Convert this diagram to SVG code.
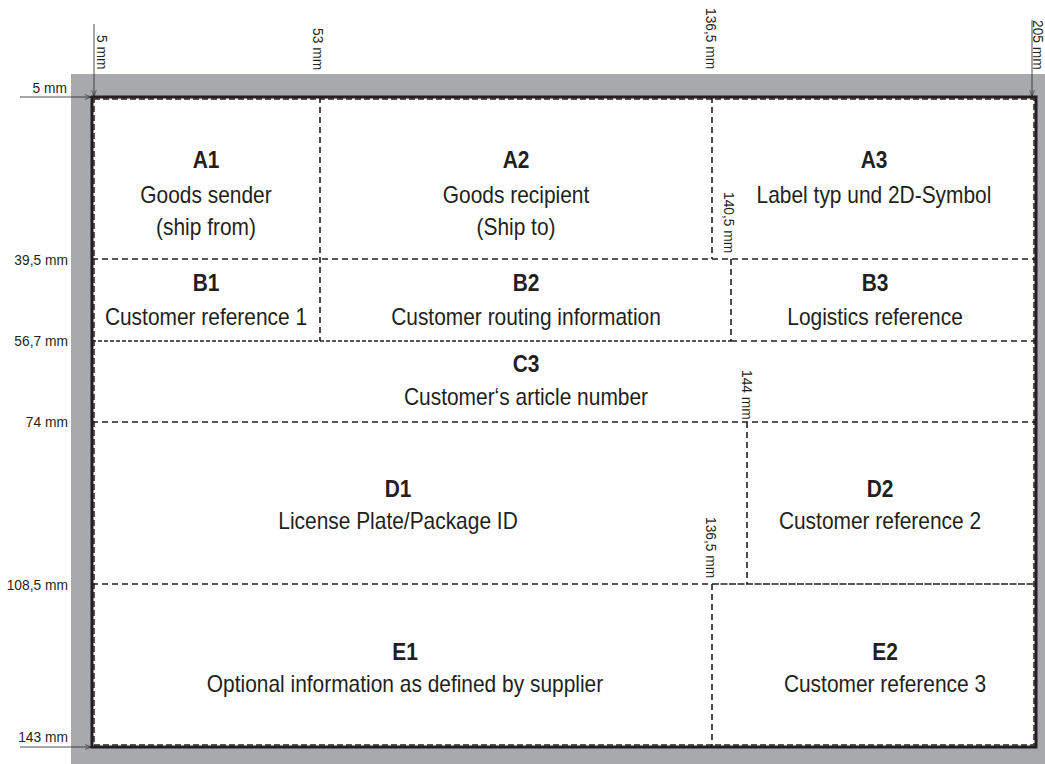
<svg xmlns="http://www.w3.org/2000/svg" width="1045" height="764" viewBox="0 0 1045 764">
<style>
.t{font-family:"Liberation Sans",Arial,sans-serif;fill:#231f20;text-anchor:middle}
.h{font-size:23px;font-weight:bold}
.r{font-size:23px}
.d{font-family:"Liberation Sans",Arial,sans-serif;fill:#231f20;font-size:15px}
.e{text-anchor:end}
.dl{stroke:#231f20;stroke-width:1.6;stroke-dasharray:6 4;fill:none}
.dim{stroke:#231f20;stroke-width:0.8;fill:none}
</style>
<defs>
<marker id="ar" viewBox="0 0 10 10" refX="10" refY="5" markerWidth="6" markerHeight="6" orient="auto" markerUnits="userSpaceOnUse">
<path d="M0,1 L10,5 L0,9" fill="none" stroke="#231f20" stroke-width="1"/>
</marker>
</defs>
<rect x="71" y="74" width="974" height="690" fill="#a7a9ac"/>
<rect id="label" x="92" y="97" width="944" height="650" fill="#fff"/>
<g id="frame">
<rect x="92" y="97" width="944" height="650" fill="none" stroke="#231f20" stroke-width="3"/>
<rect x="94" y="99" width="940" height="646" fill="none" stroke="#231f20" stroke-width="1.5" stroke-dasharray="6 3"/>
</g>
<g id="connectors">
<line class="dl" x1="92" y1="259" x2="1036" y2="259"/>
<line class="dl" x1="92" y1="341" x2="731" y2="341" style="stroke-dasharray:4 2"/>
<line class="dl" x1="731" y1="341" x2="1036" y2="341"/>
<line class="dl" x1="92" y1="422" x2="1036" y2="422"/>
<line class="dl" x1="92" y1="584" x2="712" y2="584"/>
<line class="dl" x1="712" y1="584" x2="1036" y2="584" style="stroke-dasharray:7 1.5"/>
<line class="dl" x1="320" y1="97" x2="320" y2="341"/>
<line class="dl" x1="712" y1="97" x2="712" y2="259"/>
<line class="dl" x1="731" y1="259" x2="731" y2="341"/>
<line class="dl" x1="747" y1="422" x2="747" y2="584"/>
<line class="dl" x1="712" y1="584" x2="712" y2="747"/>
<line class="dim" x1="94" y1="24" x2="94" y2="96" marker-end="url(#ar)"/>
<line class="dim" x1="20" y1="97" x2="91" y2="97" marker-end="url(#ar)"/>
<line class="dim" x1="1032" y1="20" x2="1032" y2="96" marker-end="url(#ar)"/>
<line class="dim" x1="20" y1="747" x2="91" y2="747" marker-end="url(#ar)"/>
</g>
<g id="dims">
<text class="d e" transform="translate(67,93) scale(0.92,1)">5 mm</text>
<text class="d e" transform="translate(68,265) scale(0.92,1)">39,5 mm</text>
<text class="d e" transform="translate(68,346) scale(0.92,1)">56,7 mm</text>
<text class="d e" transform="translate(68,427) scale(0.92,1)">74 mm</text>
<text class="d e" transform="translate(68,590) scale(0.92,1)">108,5 mm</text>
<text class="d e" transform="translate(68,742) scale(0.92,1)">143 mm</text>
<text class="d" transform="translate(97,35) rotate(90) scale(0.92,1)">5 mm</text>
<text class="d" transform="translate(313,28) rotate(90) scale(0.92,1)">53 mm</text>
<text class="d" transform="translate(706,8) rotate(90) scale(0.92,1)">136,5 mm</text>
<text class="d" transform="translate(1033,20) rotate(90) scale(0.92,1)">205 mm</text>
<text class="d" transform="translate(724,192) rotate(90) scale(0.92,1)">140,5 mm</text>
<text class="d" transform="translate(742,370) rotate(90) scale(0.92,1)">144 mm</text>
<text class="d" transform="translate(706,517) rotate(90) scale(0.92,1)">136,5 mm</text>
</g>
<g id="A1"><text class="t h" transform="translate(206,168) scale(0.91,1)">A1</text><text class="t r" transform="translate(206,203) scale(0.91,1)">Goods sender</text><text class="t r" transform="translate(206,235) scale(0.91,1)">(ship from)</text></g>
<g id="A2"><text class="t h" transform="translate(516,168) scale(0.91,1)">A2</text><text class="t r" transform="translate(516,203) scale(0.91,1)">Goods recipient</text><text class="t r" transform="translate(516,235) scale(0.91,1)">(Ship to)</text></g>
<g id="A3"><text class="t h" transform="translate(874,168) scale(0.91,1)">A3</text><text class="t r" transform="translate(874,203) scale(0.91,1)">Label typ und 2D-Symbol</text></g>
<g id="B1"><text class="t h" transform="translate(206,291) scale(0.91,1)">B1</text><text class="t r" transform="translate(206,325) scale(0.91,1)">Customer reference 1</text></g>
<g id="B2"><text class="t h" transform="translate(526,291) scale(0.91,1)">B2</text><text class="t r" transform="translate(526,325) scale(0.91,1)">Customer routing information</text></g>
<g id="B3"><text class="t h" transform="translate(875,291) scale(0.91,1)">B3</text><text class="t r" transform="translate(875,325) scale(0.91,1)">Logistics reference</text></g>
<g id="C3"><text class="t h" transform="translate(526,372) scale(0.91,1)">C3</text><text class="t r" transform="translate(526,405) scale(0.91,1)">Customer‘s article number</text></g>
<g id="D1"><text class="t h" transform="translate(398,497) scale(0.91,1)">D1</text><text class="t r" transform="translate(398,529) scale(0.91,1)">License Plate/Package ID</text></g>
<g id="D2"><text class="t h" transform="translate(880,497) scale(0.91,1)">D2</text><text class="t r" transform="translate(880,529) scale(0.91,1)">Customer reference 2</text></g>
<g id="E1"><text class="t h" transform="translate(405,660) scale(0.91,1)">E1</text><text class="t r" transform="translate(405,692) scale(0.91,1)">Optional information as defined by supplier</text></g>
<g id="E2"><text class="t h" transform="translate(885,660) scale(0.91,1)">E2</text><text class="t r" transform="translate(885,692) scale(0.91,1)">Customer reference 3</text></g>
</svg>
